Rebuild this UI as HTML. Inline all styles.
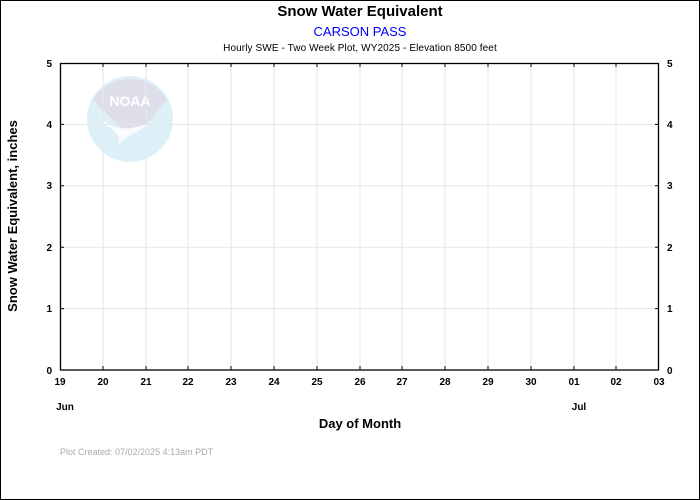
<!DOCTYPE html>
<html><head><style>body{margin:0;background:#fff}svg{display:block}</style></head><body>
<svg width="700" height="500" xmlns="http://www.w3.org/2000/svg" font-family="Liberation Sans, Arial, sans-serif">
<rect x="0.5" y="0.5" width="699" height="499" fill="#fff" stroke="#000"/>
<g opacity="0.85">
<circle cx="130" cy="119" r="43" fill="#d8eef6"/>
<path d="M93,100 A43,43 0 0 1 167,100 L150,120 Q130,138 115,122 Z" fill="#d9d9e8"/>
<path d="M95,110 Q110,135 140,126 L150,124 L140,130 Q120,140 118,146 Q122,133 105,125 Z" fill="#fff" opacity="0.8"/>
<text x="130" y="106" font-size="14" font-weight="bold" fill="#fff" text-anchor="middle">NOAA</text>
</g>
<g stroke="#e6e6e6" stroke-width="1">
<line x1="103" y1="63" x2="103" y2="370"/><line x1="146" y1="63" x2="146" y2="370"/><line x1="188" y1="63" x2="188" y2="370"/><line x1="231" y1="63" x2="231" y2="370"/><line x1="274" y1="63" x2="274" y2="370"/><line x1="317" y1="63" x2="317" y2="370"/><line x1="360" y1="63" x2="360" y2="370"/><line x1="402" y1="63" x2="402" y2="370"/><line x1="445" y1="63" x2="445" y2="370"/><line x1="488" y1="63" x2="488" y2="370"/><line x1="531" y1="63" x2="531" y2="370"/><line x1="574" y1="63" x2="574" y2="370"/><line x1="616" y1="63" x2="616" y2="370"/>
<line x1="60" y1="124.4" x2="659" y2="124.4"/><line x1="60" y1="185.8" x2="659" y2="185.8"/><line x1="60" y1="247.2" x2="659" y2="247.2"/><line x1="60" y1="308.6" x2="659" y2="308.6"/>
</g>
<rect x="60.5" y="63.5" width="598" height="306.5" fill="none" stroke="#000" stroke-width="1.3"/>
<g stroke="#000" stroke-width="1">
<path d="M103,370v-4M146,370v-4M188,370v-4M231,370v-4M274,370v-4M317,370v-4M360,370v-4M402,370v-4M445,370v-4M488,370v-4M531,370v-4M574,370v-4M616,370v-4"/>
<path d="M103,63v4M146,63v4M188,63v4M231,63v4M274,63v4M317,63v4M360,63v4M402,63v4M445,63v4M488,63v4M531,63v4M574,63v4M616,63v4"/>
<path d="M60,124.4h4M60,185.8h4M60,247.2h4M60,308.6h4M659,124.4h-4M659,185.8h-4M659,247.2h-4M659,308.6h-4"/>
</g>
<g font-size="10" font-weight="bold" fill="#000" text-anchor="middle">
<text x="60" y="385">19</text><text x="103" y="385">20</text><text x="146" y="385">21</text><text x="188" y="385">22</text><text x="231" y="385">23</text><text x="274" y="385">24</text><text x="317" y="385">25</text><text x="360" y="385">26</text><text x="402" y="385">27</text><text x="445" y="385">28</text><text x="488" y="385">29</text><text x="531" y="385">30</text><text x="574" y="385">01</text><text x="616" y="385">02</text><text x="659" y="385">03</text>
<text x="65" y="410">Jun</text><text x="579" y="410">Jul</text>
</g>
<g font-size="10" font-weight="bold" fill="#000">
<g text-anchor="end"><text x="52" y="67">5</text><text x="52" y="128">4</text><text x="52" y="189">3</text><text x="52" y="251">2</text><text x="52" y="312">1</text><text x="52" y="374">0</text></g>
<text x="667" y="67">5</text><text x="667" y="128">4</text><text x="667" y="189">3</text><text x="667" y="251">2</text><text x="667" y="312">1</text><text x="667" y="374">0</text>
</g>
<text x="360" y="16" font-size="15" font-weight="bold" text-anchor="middle">Snow Water Equivalent</text>
<text x="360" y="36" font-size="13" fill="#0000ff" text-anchor="middle">CARSON PASS</text>
<text x="360" y="51" font-size="10" text-anchor="middle" letter-spacing="0.1">Hourly SWE - Two Week Plot, WY2025 -  Elevation 8500 feet</text>
<text x="360" y="428" font-size="13" font-weight="bold" text-anchor="middle">Day of Month</text>
<text transform="translate(17,216) rotate(-90)" font-size="13" font-weight="bold" text-anchor="middle">Snow Water Equivalent, inches</text>
<text x="60" y="455" font-size="9" fill="#aaaaaa">Plot Created: 07/02/2025 4:13am PDT</text>
</svg>
</body></html>
